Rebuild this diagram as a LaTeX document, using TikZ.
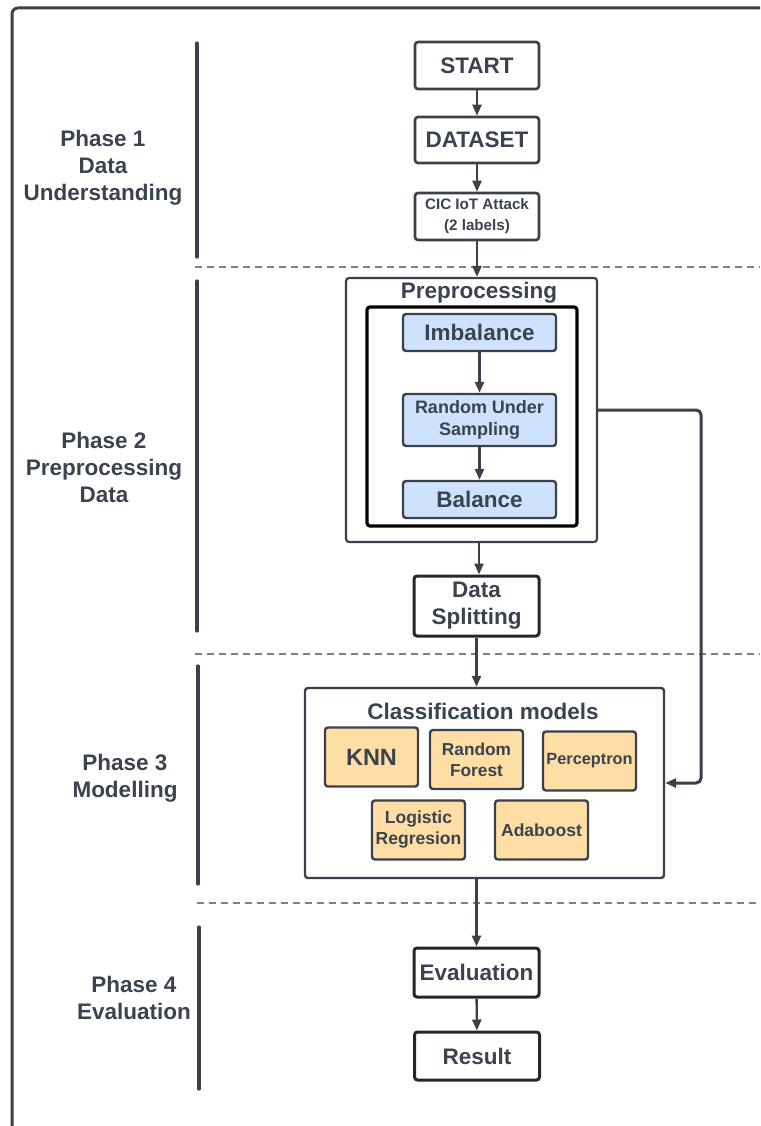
\documentclass[tikz,border=0pt]{standalone}
\usepackage{fontspec}
\setmainfont{Liberation Sans}
\usetikzlibrary{arrows.meta}
\definecolor{lc}{HTML}{3A414A}
\definecolor{tc}{HTML}{3B4350}
\definecolor{bluef}{HTML}{CFE2FD}
\definecolor{orf}{HTML}{FFDEA6}
\definecolor{dash}{HTML}{7C8089}
\begin{document}
\begin{tikzpicture}[x=1pt,y=-1pt,
  every node/.style={font=\bfseries, text=tc, align=center, inner sep=0pt},
  flow/.style={draw=lc, line width=2.6pt, rounded corners=3pt, fill=white, minimum width=124pt},
  flowk/.style={draw=black!85, line width=3pt, rounded corners=3pt, fill=white, minimum width=125pt},
  bluebox/.style={draw=lc, line width=2.4pt, rounded corners=3pt, fill=bluef, minimum width=153pt},
  orbox/.style={draw=lc, line width=2.4pt, rounded corners=3pt, fill=orf, minimum width=93pt, minimum height=59pt},
  arr/.style={draw=lc, line width=2.4pt, -{Triangle[length=11pt,width=9pt]}},
  phasebar/.style={draw=lc, line width=3.2pt, line cap=round},
  sep/.style={draw=dash, line width=1.5pt, dash pattern=on 7pt off 5pt},
  plabel/.style={font=\bfseries\fontsize{22.5}{27}\selectfont},
  big/.style={font=\bfseries\fontsize{22.5}{27}\selectfont},
  small/.style={font=\bfseries\fontsize{15.2}{21}\selectfont}
]
\useasboundingbox (0,0) rectangle (760,1126);
\clip (0,0) rectangle (760,1126);
\fill[white] (0,0) rectangle (760,1126);

% outer frame
\draw[lc, line width=3pt, rounded corners=6pt] (12,1140) -- (12,8) -- (780,8);

% phase bars
\draw[phasebar] (197,43) -- (197,257);
\draw[phasebar] (197,281) -- (197,631);
\draw[phasebar] (198,666) -- (198,884);
\draw[phasebar] (199,927) -- (199,1089);

% separators
\draw[sep] (195,267) -- (760,267);
\draw[sep] (195,654) -- (760,654);
\draw[sep] (197,903) -- (760,903);

% phase labels
\node[plabel] (p1) at (103,168) {Phase 1\\Data\\Understanding};
\node[plabel] (p2) at (104,467) {Phase 2\\Preprocessing\\Data};
\node[plabel] (p3) at (125,778) {Phase 3\\Modelling};
\node[plabel] (p4) at (134,998) {Phase 4\\Evaluation};

% phase 1 flow
\node[flow, big, minimum height=47pt] (start) at (477,65.5) {START};
\node[flow, big, minimum height=46pt] (data) at (477,140) {DATASET};
\node[flow, small, minimum height=47pt] (cic) at (477,216.5) {CIC IoT Attack\\(2 labels)};

% preprocessing
\node[draw=lc, line width=2.2pt, rounded corners=3pt, minimum width=251pt, minimum height=264pt] (prep) at (471.5,410) {};
\node[big] (preptitle) at (479,293) {Preprocessing};
\node[draw=black, line width=3.2pt, rounded corners=3pt, minimum width=210pt, minimum height=219pt] (inner) at (472,416.5) {};
\node[bluebox, big, minimum height=37pt] (imb) at (479.5,332.5) {Imbalance};
\node[bluebox, font=\bfseries\fontsize{18}{22}\selectfont, minimum height=52pt] (rus) at (479.5,420) {Random Under\\Sampling};
\node[bluebox, big, minimum height=37pt] (bal) at (479.5,499.5) {Balance};

\node[flowk, big, minimum height=60pt] (ds) at (476.5,606) {Data\\Splitting};

% classification
\node[draw=lc, line width=2.4pt, rounded corners=3pt, minimum width=359pt, minimum height=190pt] (cls) at (484.5,783) {};
\node[big] (clstitle) at (483,711) {Classification models};
\node[orbox, font=\bfseries\fontsize{23.5}{26}\selectfont] (knn) at (371.5,757) {KNN};
\node[orbox, font=\bfseries\fontsize{17.3}{21}\selectfont] (rf) at (476.5,759.5) {Random\\Forest};
\node[orbox, font=\bfseries\fontsize{16.3}{20}\selectfont] (perc) at (589.5,761) {Perceptron};
\node[orbox, font=\bfseries\fontsize{17.5}{21}\selectfont] (lr) at (418.5,830) {Logistic\\Regresion};
\node[orbox, font=\bfseries\fontsize{17.5}{21}\selectfont] (ada) at (541.5,830) {Adaboost};

% evaluation
\node[flowk, big, minimum height=49pt] (eval) at (476.5,972.5) {Evaluation};
\node[flowk, big, minimum height=48pt] (res) at (477,1056) {Result};

% connectors
\draw[arr] (start) -- (data);
\draw[arr] (data) -- (cic);
\draw[arr] (cic.south) -- (cic.south |- prep.north);
\draw[arr] (imb) -- (rus.north -| imb.south);
\draw[arr] (rus) -- (bal);
\draw[arr] ([xshift=7.5pt]prep.south) -- ([xshift=7.5pt]prep.south |- ds.north);
\draw[arr] (ds.south) -- (ds.south |- cls.north);
\draw[arr] (eval.north |- cls.south) -- (eval.north);
\draw[arr] (eval) -- (res);
\draw[arr, line width=3pt, rounded corners=5pt] (prep.east) -- ++(103,0) |- (cls.east);
\end{tikzpicture}
\end{document}
